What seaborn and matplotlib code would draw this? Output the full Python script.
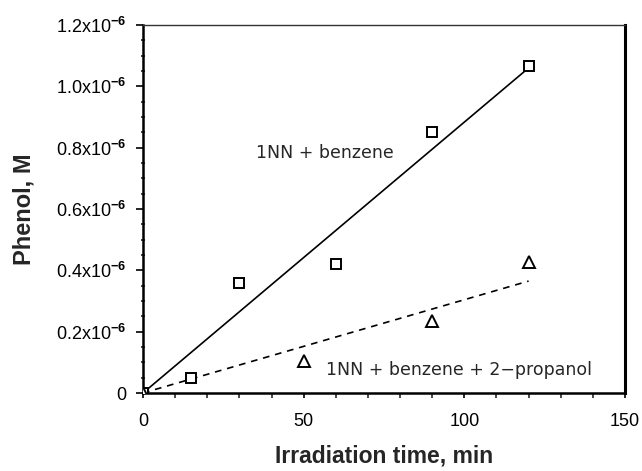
import matplotlib
matplotlib.use("Agg")
import matplotlib.pyplot as plt
from matplotlib.ticker import MultipleLocator, FixedLocator
import seaborn as sns
import pandas as pd

# Phenol formed vs irradiation time (concentrations in units of 1e-6 M)
time_benzene = [0, 15, 30, 60, 90, 120]
phenol_benzene = [0.0, 0.05, 0.36, 0.42, 0.85, 1.065]

time_propanol = [0, 50, 90, 120]
phenol_propanol = [0.0, 0.105, 0.236, 0.426]

# Linear fits drawn as lines through the origin
fit_time = [0, 120]
fit_benzene = [0.0, 1.06]
fit_propanol = [0.0, 0.365]

y_ticks = [0.0, 0.2, 0.4, 0.6, 0.8, 1.0, 1.2]
y_tick_labels = ["0"] + [f"{v:.1f}x10$^{{\\mathbf{{-6}}}}$" for v in y_ticks[1:]]
x_ticks = [0, 50, 100, 150]

sns.set_theme(style="ticks")
plt.rcParams["font.family"] = ["Liberation Sans", "DejaVu Sans"]
plt.rcParams["mathtext.fontset"] = "custom"
plt.rcParams["mathtext.rm"] = "Liberation Sans"
plt.rcParams["mathtext.bf"] = "Liberation Sans:bold"

scale = 1e-6
df_b = pd.DataFrame({"t": time_benzene, "c": [v * scale for v in phenol_benzene]})
df_p = pd.DataFrame({"t": time_propanol, "c": [v * scale for v in phenol_propanol]})
df_fb = pd.DataFrame({"t": fit_time, "c": [v * scale for v in fit_benzene]})
df_fp = pd.DataFrame({"t": fit_time, "c": [v * scale for v in fit_propanol]})

fig = plt.figure(figsize=(6.42, 4.71), dpi=100)
ax = fig.add_axes([0.2227, 0.1656, 0.7508, 0.7813])

sns.lineplot(data=df_fb, x="t", y="c", ax=ax, color="black", lw=1.2, zorder=2)
sns.lineplot(data=df_fp, x="t", y="c", ax=ax, color="black", lw=1.2,
             dashes=False, zorder=2)
ax.lines[-1].set_dashes((4, 3.5))

ax.plot(df_b["t"], df_b["c"], ls="none", marker="s", ms=7.5, mfc="white",
        mec="black", mew=1.4, zorder=3)
ax.plot(df_p["t"], df_p["c"], ls="none", marker="^", ms=8, mfc="white",
        mec="black", mew=1.4, zorder=3)

ax.set_xlim(0, 150)
ax.set_ylim(0, 1.2 * scale)

ax.xaxis.set_major_locator(FixedLocator(x_ticks))
ax.xaxis.set_minor_locator(MultipleLocator(10))
ax.yaxis.set_major_locator(FixedLocator([v * scale for v in y_ticks]))
ax.yaxis.set_minor_locator(MultipleLocator(0.05 * scale))
ax.set_yticklabels(y_tick_labels)
ax.set_xticklabels([str(v) for v in x_ticks])

ax.tick_params(axis="both", which="major", labelsize=13, colors="black",
               width=1.2)
ax.tick_params(axis="x", which="both", length=3.5, direction="out", width=1.2)
ax.tick_params(axis="x", which="major", pad=11)
ax.tick_params(axis="y", which="major", length=5, direction="out", pad=7)
ax.tick_params(axis="y", which="minor", length=3, direction="inout", width=1.2)

for side in ["left", "bottom"]:
    ax.spines[side].set_linewidth(1.8)
    ax.spines[side].set_color("black")
ax.spines["right"].set_linewidth(2.2)
ax.spines["right"].set_color("black")
ax.spines["top"].set_linewidth(1.0)
ax.spines["top"].set_color("#333333")

ax.set_xlabel("Irradiation time, min", fontsize=16.5, fontweight="bold", labelpad=10)
ax.set_ylabel("Phenol, M", fontsize=17, fontweight="bold", labelpad=15)

ax.text(56.6, 0.783 * scale, "1NN + benzene", fontsize=12.5,
        family="DejaVu Sans", ha="center", va="center")
ax.text(98.5, 0.075 * scale, "1NN + benzene + 2\u2212propanol", fontsize=12.5,
        family="DejaVu Sans", ha="center", va="center")

ax.grid(False)
fig.savefig("out.png", dpi=100)
